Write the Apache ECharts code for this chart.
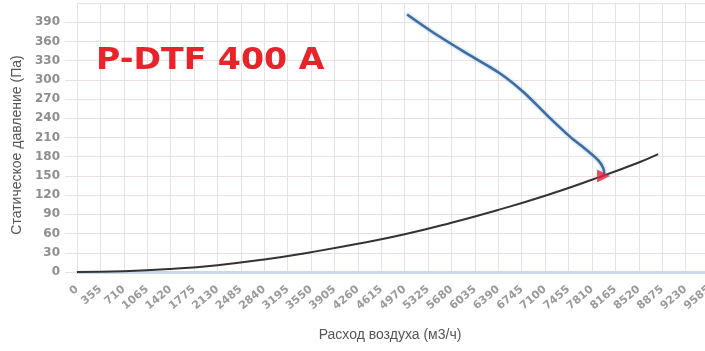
<!DOCTYPE html>
<html>
<head>
<meta charset="utf-8">
<script src="https://cdn.jsdelivr.net/npm/echarts@6/dist/echarts.min.js"></script>
<style>html,body{margin:0;padding:0;background:#fff}#c{width:705px;height:351px}</style>
</head>
<body>
<div id="c"></div>
<script>
// Fan curve (blue): [airflow m3/h, static pressure Pa]
const fanCurve = [
  [5006, 402], [5401, 374], [5917, 341], [6417, 310], [6770, 281],
  [7126, 245], [7480, 211], [7734, 190], [7910, 174], [7986, 161], [7995, 152]
];
// System curve (black)
const systemCurve = [
  [0, 0], [710, 1.2], [1420, 4.8], [2130, 10.7], [2840, 19.5], [3550, 31],
  [4260, 44], [4970, 59], [5680, 77], [6390, 97], [7100, 119], [7810, 144],
  [8520, 171], [8814, 184]
];
// Operating point (red marker)
const operatingPoint = [[7986, 150]];
const xMin = 0, xMax = 9585, xStep = 355;
const yMin = 0, yMax = 420, yStep = 30;
const title = 'P-DTF 400 A';
const xName = 'Расход воздуха (м3/ч)';
const yName = 'Статическое давление (Па)';

const grid = '#e9e1e1';
const chart = echarts.init(document.getElementById('c'), null, {renderer: 'canvas'});
chart.setOption({
  animation: false,
  backgroundColor: '#fff',
  grid: {left: 77, right: -4, top: 3, bottom: 79, containLabel: false, outerBoundsMode: 'none'},
  xAxis: {
    type: 'value', min: xMin, max: xMax, interval: xStep,
    axisLine: {show: true, lineStyle: {color: '#c9d9e8', width: 3}},
    axisTick: {show: false},
    splitLine: {show: true, lineStyle: {color: grid, width: 1}},
    axisLabel: {
      rotate: 40, margin: 16, color: '#9a9a9a', fontSize: 11,
      fontFamily: 'DejaVu Sans', fontWeight: 'bold', showMaxLabel: true,
      formatter: v => String(v)
    }
  },
  yAxis: {
    type: 'value', min: yMin, max: yMax, interval: yStep,
    axisLine: {show: false},
    axisTick: {show: true, length: 12, lineStyle: {color: grid}},
    splitLine: {show: true, lineStyle: {color: grid, width: 1}},
    axisLabel: {
      margin: 17, color: '#8e8e8e', fontSize: 12,
      fontFamily: 'DejaVu Sans', fontWeight: 'bold', showMaxLabel: false,
      formatter: v => String(v)
    }
  },
  graphic: [
    {type: 'text', x: 96, y: 45, scaleX: 1.07, z: 10,
     style: {text: title, fill: '#e8232a', font: 'bold 31px "DejaVu Sans"', verticalAlign: 'top'}},
    {type: 'text', x: 17, y: 145, rotation: Math.PI / 2,
     style: {text: yName, fill: '#555', font: '14px "Liberation Sans"', align: 'center', verticalAlign: 'middle'}},
    {type: 'text', x: 390, y: 335,
     style: {text: xName, fill: '#555', font: '14px "Liberation Sans"', align: 'center', verticalAlign: 'middle'}}
  ],
  series: [
    {
      type: 'line', data: systemCurve, smooth: true, symbol: 'none',
      lineStyle: {color: '#333', width: 2}
    },
    {
      type: 'line', data: fanCurve, smooth: 0.3, symbol: 'none',
      lineStyle: {color: '#3e6c9f', width: 2.5, shadowColor: 'rgba(110,160,220,0.7)', shadowBlur: 3}
    },
    {
      type: 'scatter', data: operatingPoint, symbol: 'triangle', symbolSize: 13,
      symbolRotate: -90, itemStyle: {color: '#e0203c'}, z: 5
    }
  ]
});
</script>
</body>
</html>
